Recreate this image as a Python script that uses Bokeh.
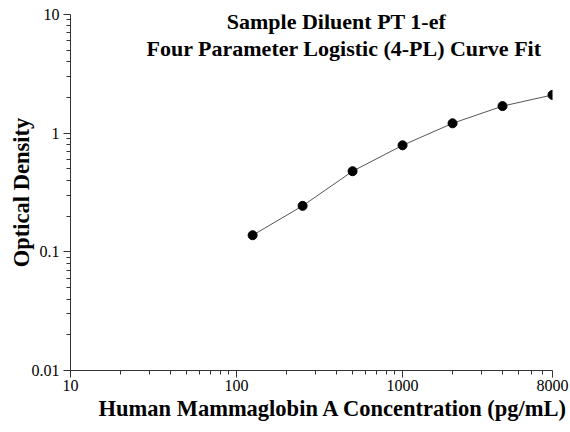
import math
from bokeh.plotting import figure
from bokeh.models import FixedTicker, Label, ColumnDataSource, Title
from bokeh.embed import file_html
from bokeh.resources import INLINE

# ---- data ----
concentration = [125, 250, 500, 1000, 2000, 4000, 8000]
optical_density = [0.138, 0.244, 0.478, 0.79, 1.21, 1.69, 2.10]

x_major = [10, 100, 1000, 8000]
x_major_labels = ["10", "100", "1000", "8000"]
x_minor = [20, 30, 40, 50, 60, 70, 80, 90, 200, 300, 400, 500, 600, 700, 800, 900,
           2000, 3000, 4000, 5000, 6000, 7000]
y_major = [0.01, 0.1, 1, 10]
y_major_labels = ["0.01", "0.1", "1", "10"]
y_minor = [0.02, 0.03, 0.04, 0.05, 0.06, 0.07, 0.08, 0.09,
           0.2, 0.3, 0.4, 0.5, 0.6, 0.7, 0.8, 0.9,
           2, 3, 4, 5, 6, 7, 8, 9]

title_lines = ["Sample Diluent PT 1-ef", "Four Parameter Logistic (4-PL) Curve Fit"]
x_title = "Human Mammaglobin A Concentration (pg/mL)"
y_title = "Optical Density"

FONT = "Liberation Serif"

p = figure(x_axis_type="log", y_axis_type="log",
           x_range=(10, 8000), y_range=(0.01, 10),
           frame_width=482, frame_height=356,
           min_border_left=70, min_border_right=18,
           min_border_top=14, min_border_bottom=62,
           output_backend="svg", toolbar_location=None,
           background_fill_color="white", border_fill_color="white")
p.outline_line_color = None
p.xgrid.visible = False
p.ygrid.visible = False

src = ColumnDataSource(dict(x=concentration, y=optical_density))
p.line("x", "y", source=src, line_color="#555555", line_width=1)
p.scatter("x", "y", source=src, size=9, fill_color="black", line_color="black")

for ax, major, minor, labels in ((p.xaxis[0], x_major, x_minor, x_major_labels),
                                 (p.yaxis[0], y_major, y_minor, y_major_labels)):
    ax.ticker = FixedTicker(ticks=major, minor_ticks=minor)
    ax.major_label_overrides = {m: l for m, l in zip(major, labels)}
    ax.major_label_text_font = FONT
    ax.major_label_text_font_size = "16px"
    ax.major_label_text_color = "black"
    ax.axis_line_color = "#333333"
    ax.major_tick_line_color = "#333333"
    ax.minor_tick_line_color = "#333333"
    ax.major_tick_in = 0
    ax.major_tick_out = 7
    ax.minor_tick_in = 0
    ax.minor_tick_out = 4
    ax.major_label_standoff = 4
p.xaxis[0].major_label_standoff = 2

# y axis title
p.yaxis[0].axis_label = y_title
p.yaxis[0].axis_label_text_font = FONT
p.yaxis[0].axis_label_text_font_size = "22.5px"
p.yaxis[0].axis_label_text_font_style = "bold"
p.yaxis[0].axis_label_text_color = "black"
p.yaxis[0].axis_label_standoff = -5

# x axis title (offset to the right like the reference)
tkw = dict(text=x_title, align="left", offset=28, text_font=FONT,
           text_font_size="22.5px", text_font_style="bold", text_color="black")
if "standoff" in Title.properties():
    tkw["standoff"] = 0
p.add_layout(Title(**tkw), "below")

# titles inside plot area (data coordinates)
p.add_layout(Label(x=400, y=8.7, text=title_lines[0], text_font=FONT,
                   text_font_size="22px", text_font_style="bold",
                   text_align="center", text_baseline="middle", text_color="black"))
p.add_layout(Label(x=445, y=5.15, text=title_lines[1], text_font=FONT,
                   text_font_size="22px", text_font_style="bold",
                   text_align="center", text_baseline="middle", text_color="black"))

open("out.html", "w").write(file_html(p, INLINE))
